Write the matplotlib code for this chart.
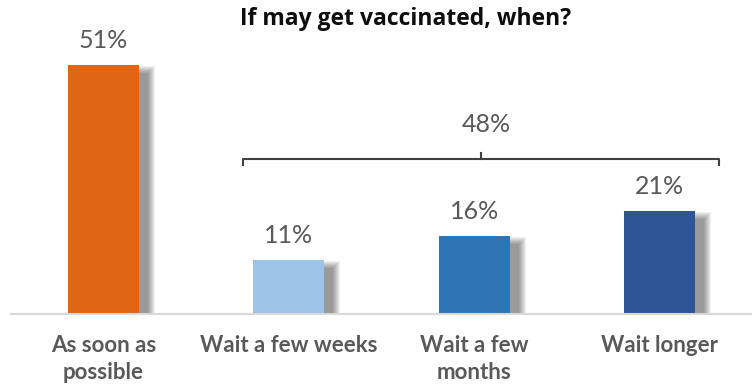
import matplotlib
matplotlib.use("Agg")
import matplotlib.pyplot as plt
from matplotlib.patches import Rectangle

# --- Data ---
categories = ["As soon as\npossible", "Wait a few weeks", "Wait a few\nmonths", "Wait longer"]
shares = [51, 11, 16, 21]
bar_colors = ["#E06616", "#9DC3E6", "#2E75B6", "#2F5597"]
group_label = "48%"
title = "If may get vaccinated, when?"

plt.rcParams["font.family"] = ["Lato", "DejaVu Sans"]
TEXT_GRAY = "#595959"

W, H = 752, 387
fig = plt.figure(figsize=(W / 100, H / 100), dpi=100)
ax = fig.add_axes([11 / W, 73 / H, 741 / W, 293 / H])
ax.set_xlim(-0.5, 3.5)
ax.set_ylim(0, 60)

# pixel size in data units
px_x = 4.0 / 741
px_y = 60.0 / 293

bar_w = 0.383
x = list(range(len(categories)))

# soft drop shadow, falling to the right of each bar
for xi, v in zip(x, shares):
    left = xi - bar_w / 2 + 9 * px_x
    top = v - 8 * px_y
    for k in range(8):
        ax.add_patch(Rectangle((left - k * px_x, -k * px_y),
                               bar_w + 2 * k * px_x, top + 2 * k * px_y,
                               facecolor="black", edgecolor="none", alpha=0.06, zorder=1))

ax.bar(x, shares, width=bar_w, color=bar_colors, zorder=3)

for xi, v in zip(x, shares):
    ax.text(xi, v + 17 * px_y, f"{v}%", ha="center", va="baseline",
            fontsize=18, color=TEXT_GRAY, zorder=4)

# bracket grouping the three "wait" answers
bl, br = 1 - 0.25, 3 + 0.32
by = 31.7
bm = (bl + br) / 2
ax.plot([bl, bl, br, br], [by - 6 * px_y, by, by, by - 6 * px_y],
        color="#404040", lw=1.5, solid_joinstyle="round", zorder=4)
ax.plot([bm, bm], [by, by + 6 * px_y], color="#404040", lw=1.5, zorder=4)
ax.text(bm + 6 * px_x, 37.3, group_label, ha="center", va="baseline",
        fontsize=18, color=TEXT_GRAY)

ax.set_xticks(x)
ax.set_xticklabels(categories, fontsize=16, fontweight="bold", color=TEXT_GRAY,
                   linespacing=1.35)
ax.tick_params(axis="x", length=0, pad=15)
ax.set_yticks([])
for side in ("top", "right", "left"):
    ax.spines[side].set_visible(False)
ax.spines["bottom"].set_color("#D9D9D9")
ax.spines["bottom"].set_linewidth(1.5)
ax.spines["bottom"].set_zorder(5)

fig.text(406 / W, 1 - 25 / H, title, ha="center", va="baseline",
         fontsize=16.5, fontweight="bold", color="#0d0d0d",
         family=["Open Sans", "DejaVu Sans"])

fig.savefig("out.png", dpi=100)
